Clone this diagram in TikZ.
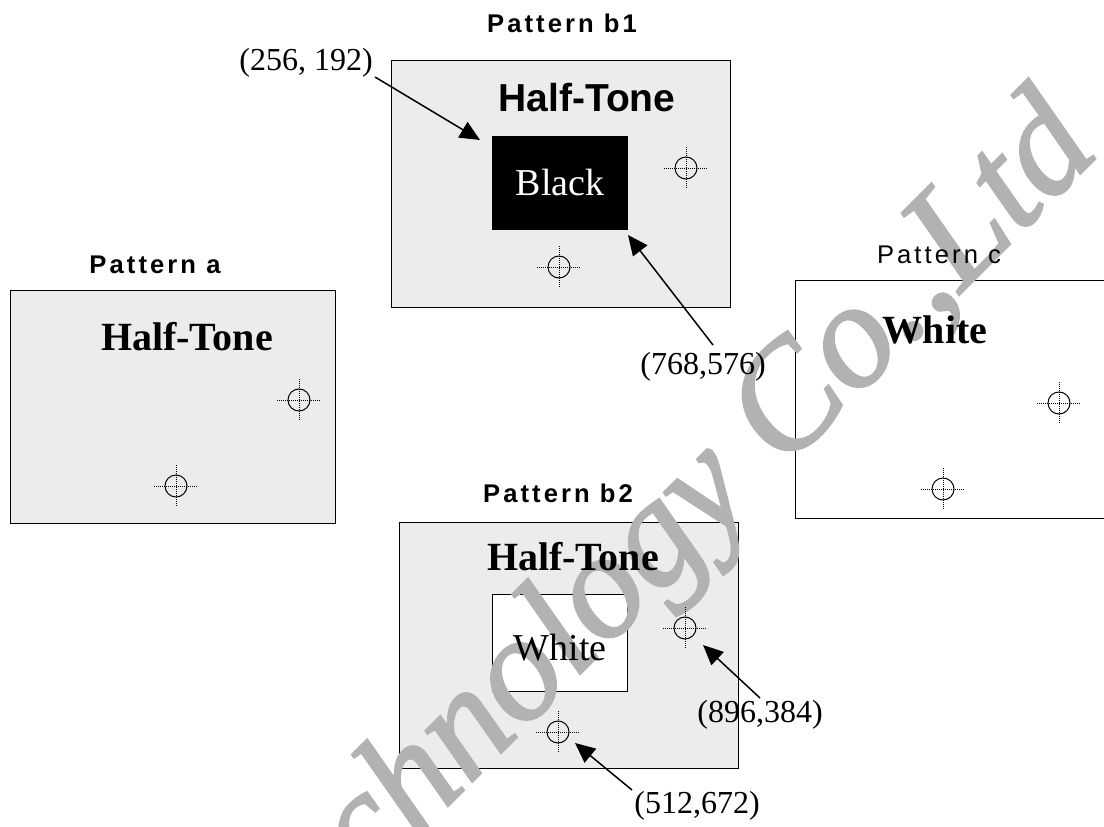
\documentclass[tikz,border=0pt]{standalone}
\usepackage{fontspec}
\setmainfont{Liberation Serif}
\setsansfont{Liberation Sans}
\newfontfamily\titlefont[LetterSpace=12]{Liberation Sans}
\newfontface\wmfont{Liberation Serif Italic}[FakeBold=1.6]
\usetikzlibrary{arrows.meta}
\definecolor{htgray}{RGB}{236,236,236}
\definecolor{wmgray}{RGB}{178,178,178}
\begin{document}
\begin{tikzpicture}[x=1pt,y=-1pt,
  frame/.style={draw=black, line width=1pt, inner sep=0pt, outer sep=0pt, anchor=north west},
  htbox/.style={frame, fill=htgray},
  ttl/.style={inner sep=0pt, font=\titlefont\bfseries\fontsize{25.6}{30}\selectfont},
  ttlr/.style={inner sep=0pt, font=\titlefont\fontsize{25.6}{30}\selectfont},
  bigserif/.style={inner sep=0pt, font=\bfseries\fontsize{40}{46}\selectfont},
  bigsans/.style={inner sep=0pt, font=\sffamily\bfseries\fontsize{39}{46}\selectfont},
  inner/.style={inner sep=0pt, font=\fontsize{38}{44}\selectfont},
  coord/.style={inner sep=0pt, font=\fontsize{32}{38}\selectfont},
  pointer/.style={line width=1.5pt, -{Triangle[length=20pt,width=18pt]}},
  xhair/.pic={
    \draw[line width=0.8pt, dash pattern=on 1pt off 1pt] (-22,0) -- (22,0) (0,-21) -- (0,21);
    \draw[line width=1pt] (0,0) circle (11);
  }
]
\clip (0,0) rectangle (1104,827);
\useasboundingbox (0,0) rectangle (1104,827);

% boxes
\node[htbox, minimum width=325pt, minimum height=233pt] (boxa) at (10,290) {};
\node[htbox, minimum width=339pt, minimum height=247pt] (boxb1) at (391,60) {};
\node[htbox, minimum width=339pt, minimum height=246pt] (boxb2) at (399,522) {};
\node[frame, fill=white, minimum width=340pt, minimum height=238pt] (boxc) at (795,280) {};
\node[frame, fill=black, minimum width=135pt, minimum height=93pt] (blackbox) at (492,136) {};
\node[frame, fill=white, minimum width=135pt, minimum height=97pt] (whitebox) at (492,594) {};

% watermark
\node[inner sep=0pt, anchor=base east, rotate=45, text=wmgray,
      font=\wmfont\fontsize{150}{160}\selectfont] (wm) at (1102,152) {Technology Co.,Ltd};

% titles
\node[ttl] (ta) at (155,265) {Pattern a};
\node[ttl] (tb1) at (562,23) {Pattern b1};
\node[ttl] (tb2) at (558,493) {Pattern b2};
\node[ttlr] (tc) at (939,255) {Pattern c};

% box texts
\node[bigserif] (hta) at (187,337) {Half-Tone};
\node[bigsans] (htb1) at (587,98) {Half-Tone};
\node[bigserif] (htb2) at (573,557) {Half-Tone};
\node[bigserif] (whc) at (935,330) {White};
\node[inner, text=white] (blk) at (560,183) {Black};
\node[inner] (whb2) at (560,648) {White};

% crosshairs
\pic at (299,400) {xhair};
\pic at (176,486) {xhair};
\pic at (686,168) {xhair};
\pic at (559,267) {xhair};
\pic at (685,628) {xhair};
\pic at (558,732) {xhair};
\pic at (1059,403) {xhair};
\pic at (943,489) {xhair};

% coordinate labels
\node[coord] (l1) at (306,63) {(256, 192)};
\node[coord] (l2) at (703,367) {(768,576)};
\node[coord] (l3) at (760,715) {(896,384)};
\node[coord] (l4) at (697,806) {(512,672)};

\coordinate (p1) at (480,140);
\coordinate (p2) at (628,235);
\coordinate (p3) at (703,645);
\coordinate (p4) at (575,743);
\coordinate (s1) at (375,77);
\coordinate (s2) at (713,345);
\coordinate (s3) at (760,698);
\coordinate (s4) at (632,790);

\draw[pointer] (s1) -- (p1);
\draw[pointer] (s2) -- (p2);
\draw[pointer] (s3) -- (p3);
\draw[pointer] (s4) -- (p4);
\end{tikzpicture}
\end{document}
